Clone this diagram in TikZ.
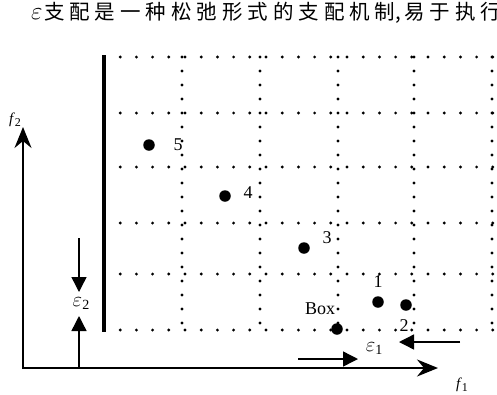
\documentclass[tikz,border=0pt]{standalone}
\usepackage{fontspec}
\setmainfont{Liberation Serif}
\newfontfamily\cjk{Noto Sans CJK SC}
\usetikzlibrary{arrows.meta}
\newcommand{\ck}{\kern4.95pt}
\newcommand{\subf}[1]{{\fontsize{12}{12}\selectfont\raisebox{-3pt}{#1}}}
\newcommand{\sube}[1]{{\fontsize{14}{14}\selectfont\raisebox{-3pt}{#1}}}
\begin{document}
\begin{tikzpicture}[x=1pt,y=-1pt,
  hgrid/.style={line width=3.2pt, line cap=round, dash pattern=on 0pt off 16.2pt},
  vgrid/.style={line width=3.2pt, line cap=round, dash pattern=on 0pt off 14pt},
  axis/.style={line width=2pt, -{Stealth[length=21pt,width=17pt,inset=7pt]}},
  epsarrow/.style={line width=1.4pt, -{Triangle[length=15pt,width=15pt]}},
  dot/.style={circle, fill, inner sep=0pt, minimum size=11.5pt},
  lab/.style={inner sep=0pt, font=\fontsize{18}{18}\selectfont},
  flab/.style={inner sep=0pt, font=\fontsize{15}{15}\selectfont},
  elab/.style={inner sep=0pt, font=\fontsize{21}{21}\selectfont}]
\useasboundingbox (0,0) rectangle (497,394);
\clip (0,0) rectangle (497,394);
% title
\node[anchor=west, inner sep=0pt] (title) at (31,13)
  {\fontsize{23}{23}\selectfont$\varepsilon$\kern1.5pt\fontsize{20.5}{20.5}\selectfont\cjk 支\ck 配\ck 是\ck 一\ck 种\ck 松\ck 弛\ck 形\ck 式\ck 的\ck 支\ck 配\ck 机\ck 制,\kern3pt 易\ck 于\ck 执\ck 行};
% grid
\foreach \y in {57,113,167,223,274,330}
  \draw[hgrid] (104,\y) -- (520,\y);
\foreach \x in {182,260,338,414,492}
  \draw[vgrid] (\x,57) -- (\x,330);
\draw[line width=4.3pt] (104,55) -- (104,332);
% axes
\coordinate (O) at (22,368);
\coordinate (f1end) at (438,368);
\coordinate (f2end) at (23,127);
\coordinate (Ob) at (23,369);
\draw[axis] (O) -- (f1end);
\draw[axis] (Ob) -- (f2end);
\node[flab] (f1) at (462,385) {\textit{f}\subf{1}};
\node[flab] (f2) at (15,120) {\textit{f}\subf{2}};
% epsilon 2
\coordinate (e2a) at (79,238);
\coordinate (e2b) at (79,292);
\coordinate (e2c) at (79,368);
\coordinate (e2d) at (79,316);
\draw[epsarrow] (e2a) -- (e2b);
\draw[epsarrow] (e2c) -- (e2d);
\node[elab] (eps2) at (81,304) {$\varepsilon$\sube{2}};
% epsilon 1
\coordinate (e1a) at (298,359);
\coordinate (e1b) at (358,359);
\coordinate (e1c) at (460,342);
\coordinate (e1d) at (399,342);
\draw[epsarrow] (e1a) -- (e1b);
\draw[epsarrow] (e1c) -- (e1d);
\node[elab] (eps1) at (374,349) {$\varepsilon$\sube{1}};
% points
\node[dot] (p5) at (149,145) {};
\node[dot] (p4) at (225,196) {};
\node[dot] (p3) at (304,248) {};
\node[dot] (p1) at (378,302) {};
\node[dot] (p2) at (406,305) {};
\node[dot] (pb) at (337,329) {};
\node[lab] (l5) at (178,145) {5};
\node[lab] (l4) at (248,193) {4};
\node[lab] (l3) at (327,238) {3};
\node[lab] (l1) at (378,282) {1};
\node[lab] (l2) at (404,326) {2};
\node[lab] (lb) at (320,309) {Box};
\end{tikzpicture}
\end{document}
